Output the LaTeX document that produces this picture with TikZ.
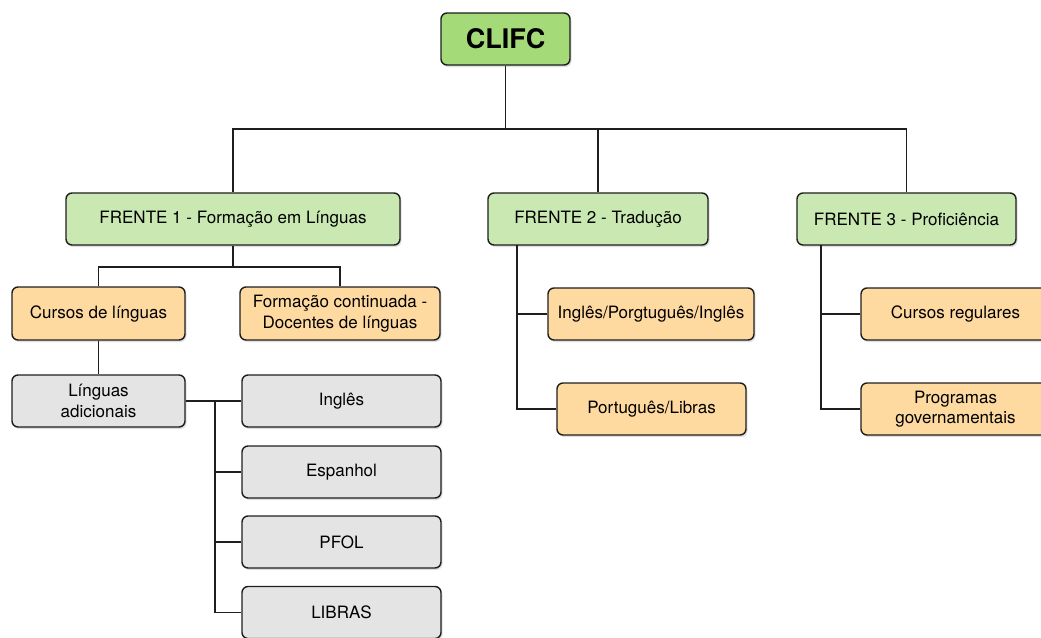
\documentclass[tikz,border=0pt]{standalone}
\usepackage{fontspec}
\setmainfont{TeX Gyre Heros}
\usetikzlibrary{shadows}
\definecolor{cgreen}{RGB}{164,218,120}
\definecolor{lgreen}{RGB}{201,232,178}
\definecolor{corange}{RGB}{254,217,160}
\definecolor{cgray}{RGB}{228,228,228}
\definecolor{edge}{RGB}{30,30,30}
\tikzset{
  box/.style={draw=edge, line width=1.4pt, rounded corners=6pt, inner sep=0pt,
    align=center, font=\fontsize{17}{20.5}\selectfont,
    drop shadow={opacity=0.25, shadow xshift=1.5pt, shadow yshift=-2pt}},
  topbox/.style={box, fill=cgreen, font=\fontsize{27}{30}\selectfont\bfseries},
  frentebox/.style={box, fill=lgreen},
  subbox/.style={box, fill=corange},
  langbox/.style={box, fill=cgray},
  link/.style={draw=edge, line width=1.3pt}
}
\begin{document}
\begin{tikzpicture}[x=1pt,y=-1pt]
\useasboundingbox (0,0) rectangle (1041,637);
% nodes
\node[topbox, minimum width=129pt, minimum height=52pt] (clifc) at (505.5,39) {CLIFC};
\node[frentebox, minimum width=334pt, minimum height=52pt] (f1) at (233,219) {FRENTE 1 - Formação em Línguas};
\node[frentebox, minimum width=220pt, minimum height=52pt] (f2) at (598,219) {FRENTE 2 - Tradução};
\node[frentebox, minimum width=219pt, minimum height=52pt] (f3) at (906.5,219) {FRENTE 3 - Proficiência};
\node[subbox, minimum width=173pt, minimum height=53pt] (cursos) at (98.5,313.5) {Cursos de línguas};
\node[subbox, minimum width=200pt, minimum height=53pt] (formacao) at (340,313.5) {Formação continuada -\\Docentes de línguas};
\node[langbox, minimum width=173pt, minimum height=52pt] (linguas) at (98.5,401) {Línguas\\adicionais};
\node[langbox, minimum width=199pt, minimum height=52pt] (ingles) at (341.5,401) {Inglês};
\node[langbox, minimum width=199pt, minimum height=52pt] (espanhol) at (341.5,472) {Espanhol};
\node[langbox, minimum width=199pt, minimum height=52pt] (pfol) at (341.5,542) {PFOL};
\node[langbox, minimum width=199pt, minimum height=52pt] (libras) at (341.5,612.5) {LIBRAS};
\node[subbox, minimum width=206pt, minimum height=52pt] (ipi) at (651,314) {Inglês/Porgtuguês/Inglês};
\node[subbox, minimum width=189pt, minimum height=52pt] (pl) at (651.5,409) {Português/Libras};
\node[subbox, minimum width=189pt, minimum height=52pt] (cr) at (955.5,314) {Cursos regulares};
\node[subbox, minimum width=189pt, minimum height=52pt] (pg) at (955.5,409) {Programas\\governamentais};
% connectors
\coordinate (bus) at (505.5,129);
\draw[link] (clifc.south) -- (bus);
\draw[link] (f1.north) |- (bus) -| (f3.north);
\draw[link] (f2.north) -- (f2.north |- bus);
\coordinate (b1) at (233,267);
\draw[link] (f1.south) -- (b1);
\draw[link] (cursos.north) |- (b1) -| (formacao.north);
\draw[link] (cursos.south) -- (linguas.north);
\coordinate (b2) at (215,401);
\draw[link] (linguas.east) -- (ingles.west);
\draw[link] (b2) |- (espanhol.west);
\draw[link] (b2) |- (pfol.west);
\draw[link] (b2) |- (libras.west);
\coordinate (t2) at (517,245);
\draw[link] (t2) |- (ipi.west);
\draw[link] (t2) |- (pl.west);
\coordinate (t3) at (821,245);
\draw[link] (t3) |- (cr.west);
\draw[link] (t3) |- (pg.west);
\end{tikzpicture}
\end{document}
